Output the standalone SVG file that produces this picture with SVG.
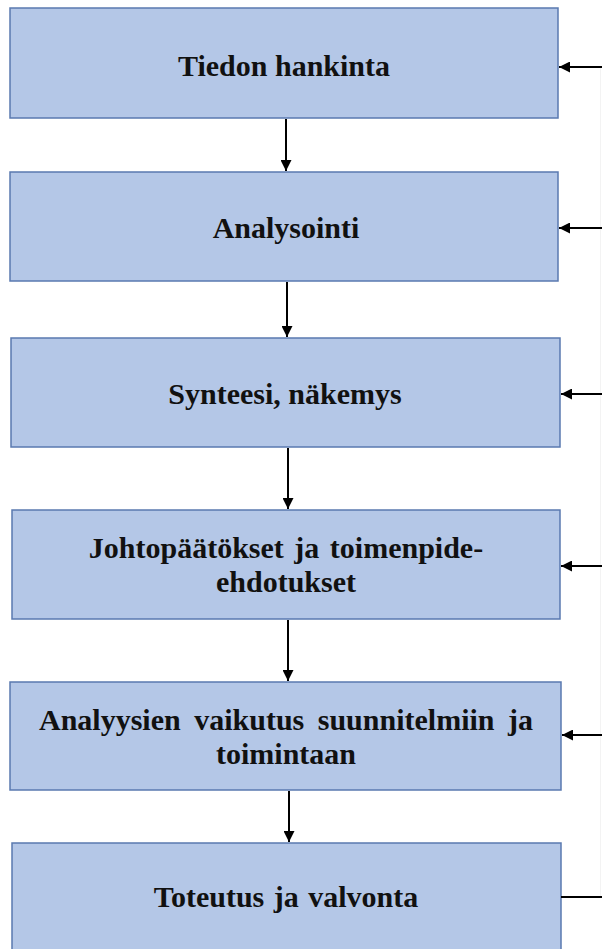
<svg xmlns="http://www.w3.org/2000/svg" width="602" height="949" viewBox="0 0 602 949">
<defs>
<style>
.box{fill:#b4c7e7;stroke:#5a79b0;stroke-width:1.5}
.lbl{font-family:"Liberation Serif","Times New Roman",serif;font-weight:bold;font-size:30px;fill:#111;text-anchor:middle}
.ln{stroke:#000;stroke-width:2;fill:none}
</style>
<marker id="ah" viewBox="0 0 10 10" refX="10" refY="5" markerWidth="5.5" markerHeight="5.5" orient="auto" markerUnits="strokeWidth">
<path d="M0,0 L10,5 L0,10 Z" fill="#000"/>
</marker>
</defs>
<rect width="602" height="949" fill="#fff"/>
<g id="n1"><rect class="box" x="10" y="8" width="548" height="110"/><text class="lbl" x="284" y="76">Tiedon hankinta</text></g>
<g id="n2"><rect class="box" x="10" y="172" width="548" height="109"/><text class="lbl" x="286" y="238">Analysointi</text></g>
<g id="n3"><rect class="box" x="11" y="338" width="549" height="109"/><text class="lbl" x="285" y="404">Synteesi, näkemys</text></g>
<g id="n4"><rect class="box" x="12" y="510" width="548" height="109"/><text class="lbl" x="286" y="558" word-spacing="3">Johtopäätökset ja toimenpide-</text><text class="lbl" x="286" y="592">ehdotukset</text></g>
<g id="n5"><rect class="box" x="10" y="682" width="551" height="108"/><text class="lbl" x="286" y="730" word-spacing="6">Analyysien vaikutus suunnitelmiin ja</text><text class="lbl" x="286" y="764">toimintaan</text></g>
<g id="n6"><rect class="box" x="12" y="843" width="549" height="110"/><text class="lbl" x="286" y="907" word-spacing="2">Toteutus ja valvonta</text></g>
<g id="connectors">
<line x1="600.5" y1="67" x2="600.5" y2="897" stroke="#f3f3f3" stroke-width="1"/>
<line class="ln" x1="286" y1="119" x2="286" y2="171" marker-end="url(#ah)"/>
<line class="ln" x1="287" y1="282" x2="287" y2="337" marker-end="url(#ah)"/>
<line class="ln" x1="288" y1="448" x2="288" y2="509" marker-end="url(#ah)"/>
<line class="ln" x1="288" y1="620" x2="288" y2="681" marker-end="url(#ah)"/>
<line class="ln" x1="289" y1="791" x2="289" y2="842" marker-end="url(#ah)"/>
<line class="ln" x1="602" y1="67" x2="559" y2="67" marker-end="url(#ah)"/>
<line class="ln" x1="602" y1="228" x2="559" y2="228" marker-end="url(#ah)"/>
<line class="ln" x1="602" y1="394" x2="561" y2="394" marker-end="url(#ah)"/>
<line class="ln" x1="602" y1="566" x2="561" y2="566" marker-end="url(#ah)"/>
<line class="ln" x1="602" y1="735" x2="562" y2="735" marker-end="url(#ah)"/>
<line class="ln" x1="602" y1="897" x2="561" y2="897"/>
</g>
</svg>
